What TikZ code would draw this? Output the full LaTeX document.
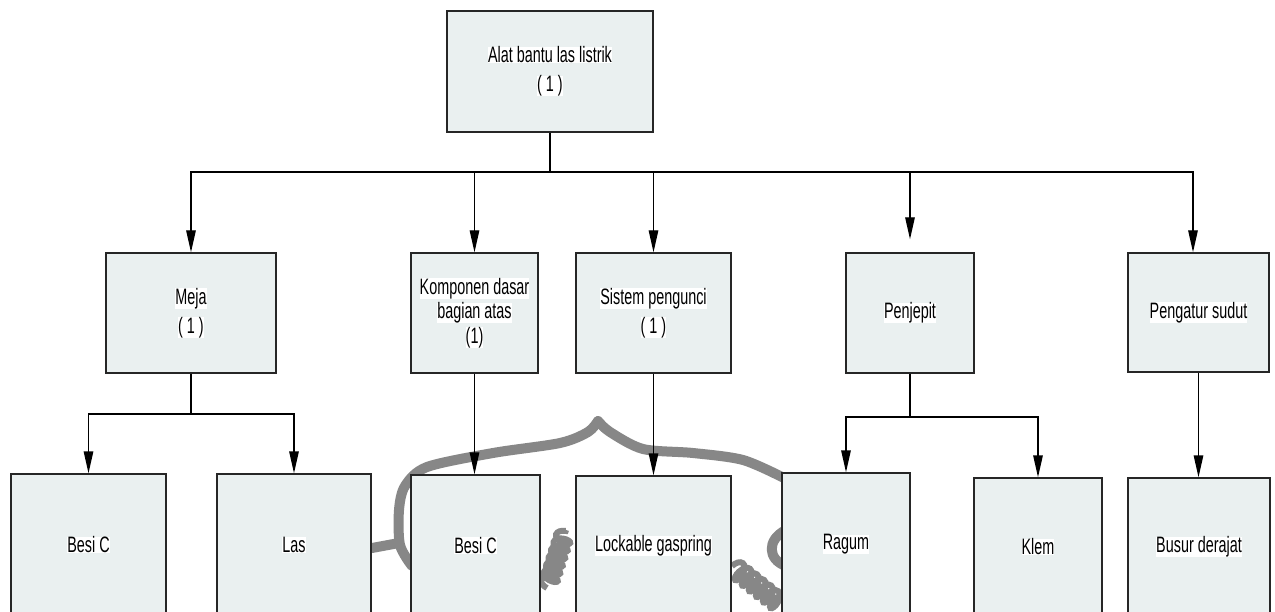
\documentclass[tikz,border=0pt]{standalone}
\usepackage{fontspec}
\setmainfont{Liberation Sans}[FakeStretch=0.645]
\usetikzlibrary{arrows.meta,decorations.pathmorphing}
\definecolor{boxfill}{RGB}{234,240,240}
\definecolor{wmgray}{RGB}{135,135,135}
\newcommand{\hl}[1]{{\setlength{\fboxsep}{0pt}\colorbox{white}{#1}}}
\tikzset{
  box/.style={draw=black!85, line width=1.4pt, fill=boxfill, inner sep=0pt, align=center,
              font=\fontsize{22.3}{29}\selectfont},
  tight/.style={font=\fontsize{22.3}{24.5}\selectfont},
  conn/.style={line width=1.4pt, draw=black},
  arr/.style={conn, -{Triangle[length=22pt,width=9.5pt]}},
  wm/.style={draw=wmgray, line width=10pt, line cap=round, line join=round},
}
\begin{document}
\begin{tikzpicture}[x=1pt,y=-1pt]
\clip (0,0) rectangle (1275,612);
\fill[white] (0,0) rectangle (1275,612);
% faint watermark behind the lower row
\draw[wm] plot[smooth] coordinates {(412,566) (400,545) (399,510) (405,486) (427,467) (493,453) (560,443) (588,432) (598,421)};
\draw[wm] plot[smooth] coordinates {(598,421) (610,432) (643,449) (693,453) (743,460) (784,478)};
\draw[wm] (399,543) -- (372,548);
\draw[wm] (786,530) .. controls (766,540) and (768,560) .. (786,566);
\draw[draw=wmgray, line width=6pt, decorate, decoration={coil, amplitude=8pt, segment length=8pt}] (547,588) -- (566,530);
\draw[draw=wmgray, line width=6pt, decorate, decoration={coil, amplitude=9pt, segment length=9pt}] (732,566) -- (790,612);

% level 0
\node[box, minimum width=206pt, minimum height=121pt] (top) at (550,71.5) {\hl{Alat bantu las listrik}\\\hl{( 1 )}};
% level 1
\node[box, minimum width=170pt, minimum height=120pt] (meja) at (191,313) {\hl{Meja}\\\hl{( 1 )}};
\node[box, tight, minimum width=127pt, minimum height=120pt] (komp) at (474.5,313) {\hl{Komponen dasar}\\\hl{bagian atas}\\\hl{(1)}};
\node[box, minimum width=155pt, minimum height=120pt] (sist) at (653.5,313) {\hl{Sistem pengunci}\\\hl{( 1 )}};
\node[box, minimum width=128pt, minimum height=120pt] (penj) at (910,313) {\hl{Penjepit}};
\node[box, minimum width=141pt, minimum height=119pt] (peng) at (1198.5,312.5) {\hl{Pengatur sudut}};
% level 2
\node[box, minimum width=155pt, minimum height=142pt] (besi1) at (88.5,545) {\hl{Besi C}};
\node[box, minimum width=154pt, minimum height=142pt] (las) at (294,545) {\hl{Las}};
\node[box, minimum width=129pt, minimum height=141pt] (besi2) at (475.5,545.5) {\hl{Besi C}};
\node[box, minimum width=155pt, minimum height=140pt] (lock) at (653.5,546) {\hl{Lockable gaspring}};
\node[box, minimum width=128pt, minimum height=143pt] (ragum) at (846,544.5) {\hl{Ragum}};
\node[box, minimum width=128pt, minimum height=138pt] (klem) at (1038,547) {\hl{Klem}};
\node[box, minimum width=142pt, minimum height=138pt] (busur) at (1199,547) {\hl{Busur derajat}};

% connectors level 0 -> 1
\coordinate (bus) at (550,172);
\draw[conn] (top.south) -- (bus);
\draw[arr] (bus) -| (meja.north);
\draw[arr] (bus) -| (komp.north);
\draw[arr] (bus) -| (sist.north);
\draw[arr, shorten >=13pt] (bus) -| (penj.north);
\draw[arr] (bus) -| ([xshift=-5.5pt]peng.north);

% connectors level 1 -> 2
\coordinate (mjbus) at (191,414);
\draw[conn] (meja.south) -- (mjbus);
\draw[arr] (mjbus) -| (besi1.north);
\draw[arr] (mjbus) -| (las.north);
\draw[arr] (komp.south) -- (komp.south |- besi2.north);
\draw[arr] (sist.south) -- (lock.north);
\coordinate (pjbus) at (910,417);
\draw[conn] (penj.south) -- (pjbus);
\draw[arr] (pjbus) -| (ragum.north);
\draw[arr] (pjbus) -| (klem.north);
\draw[arr] (peng.south) -- (peng.south |- busur.north);
\end{tikzpicture}
\end{document}
